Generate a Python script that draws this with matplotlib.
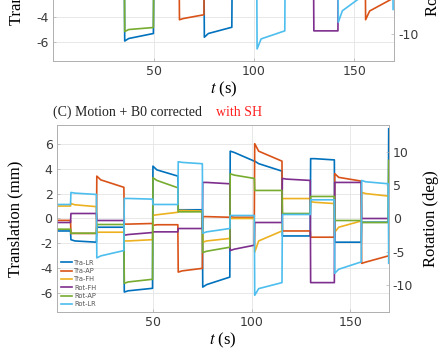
import numpy as np
import matplotlib
matplotlib.use("Agg")
import matplotlib.pyplot as plt

plt.rcParams['axes.unicode_minus'] = False
plt.rcParams['mathtext.fontset'] = 'stix'

# block boundaries (s)
seg_start = [1.4, 8.6, 21.7, 35.6, 50.1, 62.9, 75.3, 89.2, 101.6, 115.6, 129.9, 142.1, 155.7]
seg_end = [8.4, 21.5, 35.4, 49.9, 62.7, 75.1, 89.0, 101.4, 115.4, 129.7, 141.9, 155.5, 169.2]
t_last = 169.4

# panel C: [start, settled, end] for every block (mm / deg), then last sample
tra_lr = [[-1.0, -1.0, -1.0], [-1.7, -1.8, -1.9], [-0.7, -0.7, -0.7], [-5.9, -5.8, -5.6],
          [4.2, 3.9, 3.4], [0.7, 0.7, 0.7], [-5.5, -5.3, -4.7], [5.4, 5.3, 4.6],
          [4.6, 4.4, 3.8], [-1.4, -1.4, -1.4], [4.8, 4.8, 4.7], [-1.9, -1.9, -1.9],
          [-0.3, -0.3, -0.3]]
tra_lr_last = 7.2
tra_ap = [[-0.15, -0.15, -0.15], [-1.2, -1.2, -1.2], [3.4, 3.1, 2.5], [-0.45, -0.45, -0.4],
          [-0.55, -0.5, -0.5], [-4.3, -4.2, -4.0], [0.15, 0.15, 0.1], [0.15, 0.1, 0.1],
          [6.0, 5.4, 4.6], [-1.0, -1.0, -1.0], [-1.5, -1.5, -1.5], [3.6, 3.3, 3.0],
          [-3.6, -3.5, -3.0]]
tra_ap_last = -3.0
tra_fh = [[1.0, 1.0, 1.0], [1.2, 1.1, 0.95], [-1.1, -1.1, -1.1], [-1.8, -1.8, -1.7],
          [0.25, 0.3, 0.5], [0.65, 0.65, 0.6], [-1.9, -1.8, -1.6], [0.0, 0.0, 0.0],
          [-2.7, -1.8, -1.0], [1.6, 1.6, 1.6], [1.35, 1.3, 1.2], [-1.1, -0.7, -0.2],
          [2.1, 2.0, 1.8]]
tra_fh_last = 1.8
rot_fh = [[-0.6, -0.6, -0.6], [0.75, 0.75, 0.75], [-0.3, -0.3, -0.3], [-2.5, -2.4, -2.1],
          [-2.0, -2.0, -2.0], [-1.5, -1.5, -1.5], [5.4, 5.4, 5.2], [-4.8, -4.6, -4.0],
          [-0.6, -0.6, -0.6], [6.0, 5.9, 5.7], [-9.6, -9.6, -9.6], [5.4, 5.4, 5.4],
          [0.0, 0.0, 0.0]]
rot_fh_last = 0.0
rot_ap = [[-1.6, -1.6, -1.6], [-2.2, -2.2, -2.2], [-0.9, -0.9, -0.9], [-9.7, -9.5, -9.1],
          [6.1, 5.7, 4.6], [1.0, 1.0, 1.0], [-5.1, -4.9, -4.3], [6.7, 6.5, 6.0],
          [4.2, 4.2, 4.2], [0.75, 0.75, 0.75], [3.3, 3.3, 3.3], [-0.3, -0.3, -0.3],
          [-0.6, -0.6, -0.6]]
rot_ap_last = 8.7
rot_lr = [[2.1, 2.1, 2.1], [3.9, 3.8, 3.6], [-5.9, -5.6, -4.8], [3.0, 3.0, 2.9],
          [2.1, 2.1, 2.1], [8.5, 8.4, 8.2], [-2.2, -2.0, -1.5], [0.45, 0.45, 0.45],
          [-11.5, -10.5, -9.6], [0.6, 0.6, 0.6], [2.8, 2.8, 2.8], [-8.2, -7.6, -6.5],
          [5.7, 5.5, 5.2]]
rot_lr_last = -6.7

# panel B (only its lower part is in the crop), 0 = above the crop
z = [0.0, 0.0, 0.0]
b_tra_lr = [z, z, z, [-5.9, -5.7, -5.3], z, z, [-5.6, -5.3, -4.8], z, z, z, z, z, z]
b_tra_ap = [z, z, z, z, z, [-4.2, -4.1, -3.8], z, z, z, z, z, z, [-4.2, -3.5, -2.5]]
b_tra_fh = [z] * 13
b_rot_fh = [z, z, z, z, z, z, z, z, z, z, [-9.5, -9.5, -9.5], z, z]
b_rot_ap = [z, z, z, [-9.6, -9.3, -9.0], z, z, z, z, z, z, z, z, z]
b_rot_lr = [z, z, z, z, z, z, z, z, [-12.2, -10.7, -9.5], z, z, [-8.2, -6.5, -4.0], z]
b_rot_lr_last = -6.3

names = ['Tra-LR', 'Tra-AP', 'Tra-FH', 'Rot-FH', 'Rot-AP', 'Rot-LR']
colors = ['#0072BD', '#D95319', '#EDB120', '#7E2F8E', '#77AC30', '#4DBEEE']


def trace(blocks, last):
    t, v = [], []
    for a, b, (v0, v1, v2) in zip(seg_start, seg_end, blocks):
        t += [a, a + 2, b]
        v += [v0, v1, v2]
    t.append(t_last)
    v.append(last)
    return t, v


def style(ax, ax2, width_px, rticks, lpad, rpad):
    for a in (ax, ax2):
        for s in a.spines.values():
            s.set_color('#b0b0b0')
            s.set_linewidth(0.6)
        a.tick_params(direction='in', length=2, width=0.5, colors='#b0b0b0',
                      labelcolor='#3a3a3a', labelsize=9, pad=3)
    ax.grid(True, color='#e4e4e4', lw=0.6)
    ax.set_axisbelow(True)
    ax.set_ylim(-7.5, 7.5)
    ax.set_yticks([-6, -4, -2, 0, 2, 4, 6])
    ax2.set_ylim(-14, 14)
    ax2.set_yticks(rticks)
    ax.set_xticks([50, 100, 150])
    ax.set_xlabel('$t$ (s)', fontsize=12, family='Liberation Serif', labelpad=1)
    ax.set_ylabel('Translation (mm)', fontsize=12, family='Liberation Serif')
    ax2.set_ylabel('Rotation (deg)', fontsize=12, family='Liberation Serif')
    ax.yaxis.set_label_coords(-lpad / width_px, 0.5)
    ax2.yaxis.set_label_coords(1 + rpad / width_px, 0.5)


fig = plt.figure(figsize=(4.46, 3.53), dpi=100)

# panel B (cut off at the top)
axb = fig.add_axes([53.3 / 446, 1 - 61 / 353, 341 / 446, 187.5 / 353])
axb2 = axb.twinx()
for blocks, c in zip([b_tra_lr, b_tra_ap, b_tra_fh], colors[:3]):
    axb.plot(*trace(blocks, 0.0), color=c, lw=1.2)
for blocks, last, c in zip([b_rot_fh, b_rot_ap, b_rot_lr], [0.0, 0.0, b_rot_lr_last], colors[3:]):
    axb2.plot(*trace(blocks, last), color=c, lw=1.2)
axb.set_xlim(0, 170)
style(axb, axb2, 341, [-10, 0, 10], 29, 31)

# panel C
ax = fig.add_axes([56.7 / 446, 1 - 312 / 353, 332 / 446, 187 / 353])
ax2 = ax.twinx()
handles = []
for blocks, last, c, n in zip([tra_lr, tra_ap, tra_fh], [tra_lr_last, tra_ap_last, tra_fh_last],
                              colors[:3], names[:3]):
    handles += ax.plot(*trace(blocks, last), color=c, lw=1.2, label=n)
for blocks, last, c, n in zip([rot_fh, rot_ap, rot_lr], [rot_fh_last, rot_ap_last, rot_lr_last],
                              colors[3:], names[3:]):
    handles += ax2.plot(*trace(blocks, last), color=c, lw=1.2, label=n)
ax.set_xlim(1.4, 169.4)
style(ax, ax2, 332, [-10, -5, 0, 5, 10], 33, 34)

leg = ax2.legend(handles=handles, loc='lower left', fontsize=4.8, frameon=False,
                 handlelength=1.6, handletextpad=0.3, labelspacing=0.35,
                 borderaxespad=0.3)
for txt in leg.get_texts():
    txt.set_color('#555555')

fig.text(53 / 446, 1 - 112 / 353, '(C) Motion + B0 corrected', fontsize=10,
         family='Liberation Serif', va='center', ha='left', color='#222222')
fig.text(216 / 446, 1 - 112 / 353, 'with SH', fontsize=10,
         family='Liberation Serif', va='center', ha='left', color='#ff2020')

fig.savefig('out.png', dpi=100)
